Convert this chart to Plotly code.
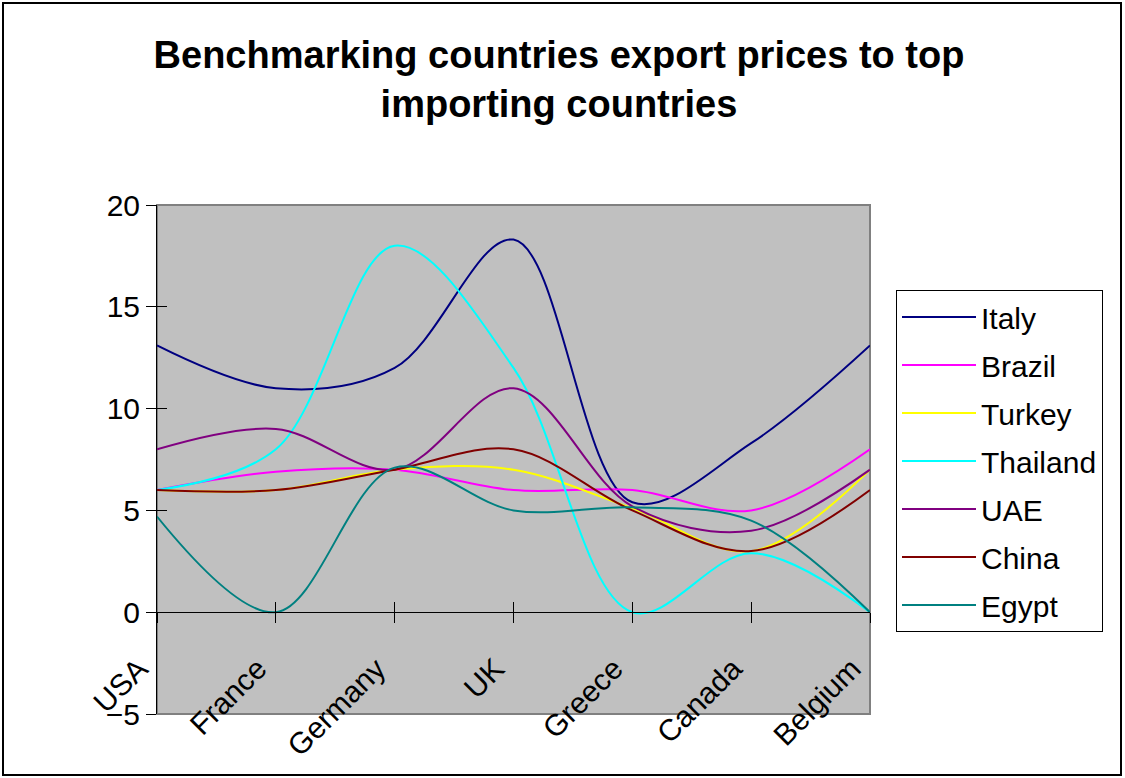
import plotly.graph_objects as go

countries = ["USA", "France", "Germany", "UK", "Greece", "Canada", "Belgium"]

italy = [13.1, 11.0, 12.0, 18.3, 5.4, 8.3, 13.1]
brazil = [6.0, 6.9, 7.0, 6.0, 6.0, 5.0, 8.0]
turkey = [6.0, 6.0, 7.0, 7.0, 5.1, 3.0, 7.0]
thailand = [6.0, 8.0, 18.0, 12.0, 0.0, 2.9, 0.0]
uae = [8.0, 9.0, 7.0, 11.0, 5.2, 4.0, 7.0]
china = [6.0, 6.0, 7.0, 8.0, 5.0, 3.0, 6.0]
egypt = [4.7, 0.0, 7.1, 5.0, 5.15, 4.5, 0.0]

series = [
    ("Italy", italy, "#000080"),
    ("Brazil", brazil, "#FF00FF"),
    ("Turkey", turkey, "#FFFF00"),
    ("Thailand", thailand, "#00FFFF"),
    ("UAE", uae, "#800080"),
    ("China", china, "#800000"),
    ("Egypt", egypt, "#008080"),
]

W, H = 1125, 778
L, R, T, B = 157, 255, 205, 64
pw, ph = W - L - R, H - T - B

FONT = "Arial, Liberation Sans, sans-serif"

fig = go.Figure()
for name, vals, color in series:
    fig.add_trace(go.Scatter(
        x=countries, y=vals, name=name, mode="lines",
        line=dict(color=color, width=2, shape="spline", smoothing=1.0),
        legendgroup=name,
    ))

# empty trace to carry overlay axes that draw the inner half of the crossing ticks
fig.add_trace(go.Scatter(x=[], y=[], xaxis="x2", yaxis="y2", showlegend=False, hoverinfo="skip"))

ypos0 = 5 / 25  # fraction of plot height where y = 0

fig.update_layout(
    width=W, height=H,
    margin=dict(l=L, r=R, t=T, b=B, autoexpand=False),
    paper_bgcolor="white",
    plot_bgcolor="#C0C0C0",
    font=dict(family=FONT, color="black", size=30),
    title=dict(
        text="<b>Benchmarking countries export prices to top<br>importing countries</b>",
        x=559 / W, xref="container", xanchor="center",
        y=1 - 68 / H, yref="container", yanchor="middle",
        font=dict(family=FONT, size=38, color="black"),
    ),
    showlegend=True,
    legend=dict(
        x=(896 - L) / pw, xanchor="left",
        y=(H - B - 290) / ph, yanchor="top",
        bgcolor="white", bordercolor="black", borderwidth=1,
        font=dict(family=FONT, size=30, color="black"),
        tracegroupgap=6,
        itemwidth=74,
    ),
    xaxis=dict(
        type="category", categoryorder="array", categoryarray=countries,
        range=[0, 6], anchor="free", position=ypos0,
        showline=True, linecolor="black", linewidth=1,
        ticks="outside", ticklen=10, tickcolor="black", tickwidth=1,
        tickangle=-45, ticklabelstandoff=16, ticklabelshift=-18,
        tickfont=dict(family=FONT, size=30, color="black"),
        showgrid=False, zeroline=False,
    ),
    yaxis=dict(
        range=[-5, 20], dtick=5, tick0=0,
        showline=True, linecolor="black", linewidth=1,
        ticks="outside", ticklen=10, tickcolor="black", tickwidth=1,
        tickfont=dict(family=FONT, size=30, color="black"),
        showgrid=False, zeroline=False,
    ),
    xaxis2=dict(
        overlaying="x", range=[0, 6], dtick=1, tick0=0,
        anchor="free", position=ypos0,
        ticks="inside", ticklen=10, tickcolor="black", tickwidth=1,
        showticklabels=False, showline=False, showgrid=False, zeroline=False,
    ),
    yaxis2=dict(
        overlaying="y", range=[-5, 20], dtick=5, tick0=0, anchor="x2", side="left",
        ticks="inside", ticklen=10, tickcolor="black", tickwidth=1,
        showticklabels=False, showline=False, showgrid=False, zeroline=False,
    ),
    shapes=[
        dict(type="rect", xref="x domain", yref="y domain", x0=0, x1=1, y0=0, y1=1,
             line=dict(color="#808080", width=2), layer="below"),
        dict(type="rect", xref="paper", yref="paper",
             x0=(3 - L) / pw, x1=(1121 - L) / pw,
             y0=(H - B - 775) / ph, y1=(H - B - 3) / ph,
             line=dict(color="black", width=2), layer="above"),
    ],
)

fig.write_html("out.html")
